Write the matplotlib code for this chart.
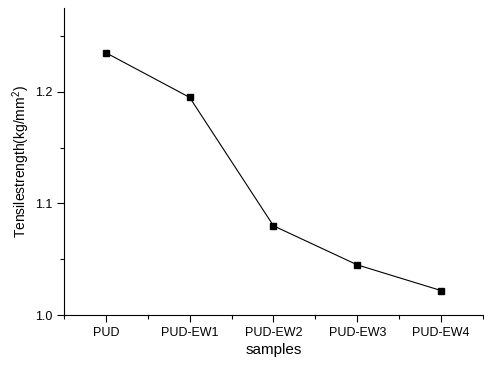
import matplotlib
matplotlib.use('Agg')
from matplotlib import pyplot as plt
from matplotlib.ticker import MultipleLocator

samples = ['PUD', 'PUD-EW1', 'PUD-EW2', 'PUD-EW3', 'PUD-EW4']
strength = [1.235, 1.195, 1.080, 1.045, 1.022]

plt.rcParams['font.family'] = 'Liberation Sans'
plt.rcParams['mathtext.fontset'] = 'custom'
plt.rcParams['mathtext.rm'] = 'Liberation Sans'
plt.rcParams['mathtext.it'] = 'Liberation Sans'

fig = plt.figure(figsize=(4.84, 3.66), dpi=100)
ax = fig.add_axes([0.132, 0.139, 0.866, 0.839])

x = range(len(samples))
ax.plot(x, strength, color='black', linewidth=0.8, marker='s', markersize=5)

ax.set_xlim(-0.5, 4.5)
ax.set_ylim(1.0, 1.275)
ax.set_xticks(list(x))
ax.set_xticklabels(samples)
ax.xaxis.set_minor_locator(MultipleLocator(0.5))
ax.yaxis.set_minor_locator(MultipleLocator(0.05))
ax.set_yticks([1.0, 1.1, 1.2])
ax.set_yticklabels(['1.0', '1.1', '1.2'])

ax.spines['top'].set_visible(False)
ax.spines['right'].set_visible(False)
ax.tick_params(which='major', direction='out', length=5, width=0.8, labelsize=9)
ax.tick_params(which='minor', direction='out', length=3, width=0.8)

ax.set_xlabel('samples', fontsize=11, labelpad=3)
ax.set_ylabel('Tensilestrength(kg/mm$^2$)', fontsize=10, labelpad=2)

fig.savefig('out.png', dpi=100)
